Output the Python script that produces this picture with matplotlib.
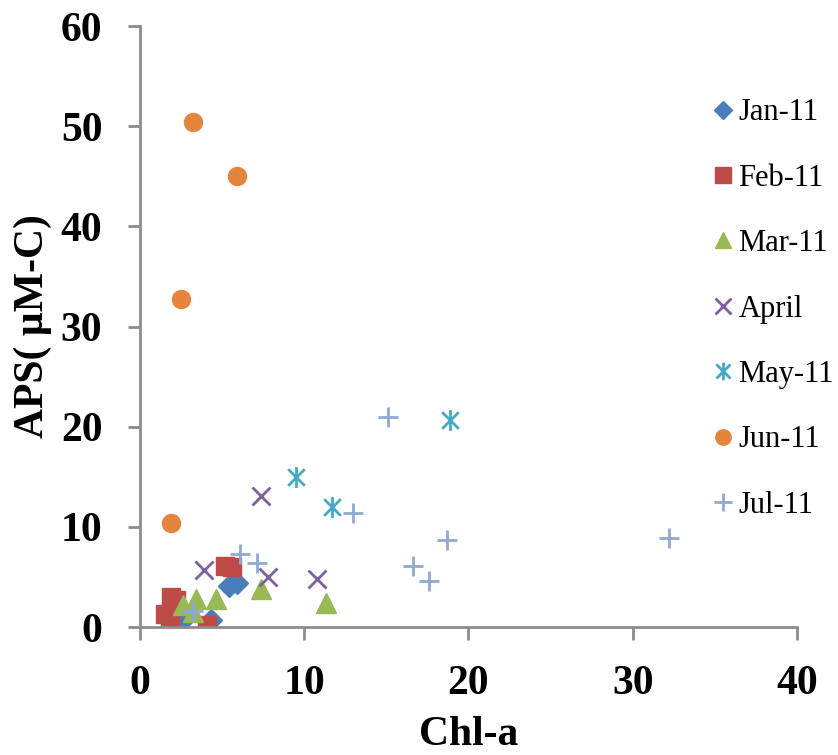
import matplotlib.pyplot as plt
from matplotlib.path import Path

plt.rcParams['font.family'] = ['Liberation Serif', 'DejaVu Serif']

# Chl-a vs APS for each sampling month
jan_x = [2.5, 4.3, 5.4, 5.9]
jan_y = [0.5, 0.7, 4.1, 4.4]
feb_x = [1.5, 1.8, 1.9, 2.2, 4.1, 5.2, 5.6]
feb_y = [1.3, 0.8, 3.0, 2.7, 0.2, 6.1, 6.0]
mar_x = [2.6, 3.2, 3.4, 4.6, 7.4, 11.3]
mar_y = [2.2, 1.5, 2.8, 2.8, 3.8, 2.4]
apr_x = [3.9, 7.4, 7.8, 10.8]
apr_y = [5.7, 13.1, 5.0, 4.8]
may_x = [9.5, 11.7, 18.9]
may_y = [15.0, 12.0, 20.7]
jun_x = [3.2, 5.9, 2.5, 1.9]
jun_y = [50.4, 45.0, 32.7, 10.4]
jul_x = [15.1, 13.0, 18.7, 16.6, 17.6, 32.2, 6.1, 7.1, 3.2]
jul_y = [21.0, 11.4, 8.7, 6.1, 4.6, 8.9, 7.3, 6.4, 1.6]

# asterisk: an x with a vertical bar through it
star = Path([(0, -1), (0, 1), (-0.8, -0.8), (0.8, 0.8), (-0.8, 0.8), (0.8, -0.8)],
            [Path.MOVETO, Path.LINETO] * 3)

fig = plt.figure(figsize=(8.38, 7.55), dpi=100)
ax = fig.add_axes([0.167, 0.1695, 0.784, 0.796])

ax.plot(jan_x, jan_y, 'D', color='#4A7EBB', ms=11, ls='none', label='Jan-11')
ax.plot(feb_x, feb_y, 's', color='#BE4B48', ms=13, ls='none', label='Feb-11')
ax.plot(mar_x, mar_y, '^', color='#98B954', ms=14, ls='none', label='Mar-11')
ax.plot(apr_x, apr_y, 'x', color='#7D60A0', ms=13, mew=2, ls='none', label='April')
ax.plot(may_x, may_y, marker=star, color='#46AAC5', ms=15, mew=2, ls='none', label='May-11')
ax.plot(jun_x, jun_y, 'o', color='#E5853D', ms=13, ls='none', label='Jun-11')
ax.plot(jul_x, jul_y, '+', color='#8EA9D4', ms=15, mew=2, ls='none', label='Jul-11')

ax.set_xlim(0, 40)
ax.set_ylim(0, 60)
ax.set_xticks([0, 10, 20, 30, 40])
ax.set_yticks([0, 10, 20, 30, 40, 50, 60])

for s in ['top', 'right']:
    ax.spines[s].set_visible(False)
for s in ['left', 'bottom']:
    ax.spines[s].set_color('#8C8C8C')
    ax.spines[s].set_linewidth(2)
ax.tick_params(direction='out', length=9, width=2, color='#8C8C8C',
               labelsize=30, pad=18)
for lbl in ax.get_xticklabels() + ax.get_yticklabels():
    lbl.set_fontweight('bold')

ax.set_xlabel('Chl-a', fontsize=30, fontweight='bold', labelpad=10)
ax.set_ylabel('APS( µM-C)', fontsize=30, fontweight='bold', labelpad=6)

ax.legend(loc='upper left', bbox_to_anchor=(0.848, 0.905), frameon=False,
          fontsize=22, labelspacing=1.19, handlelength=0.7,
          handletextpad=0.15, borderpad=0, markerscale=0.85)

fig.savefig('out.png', dpi=100)
